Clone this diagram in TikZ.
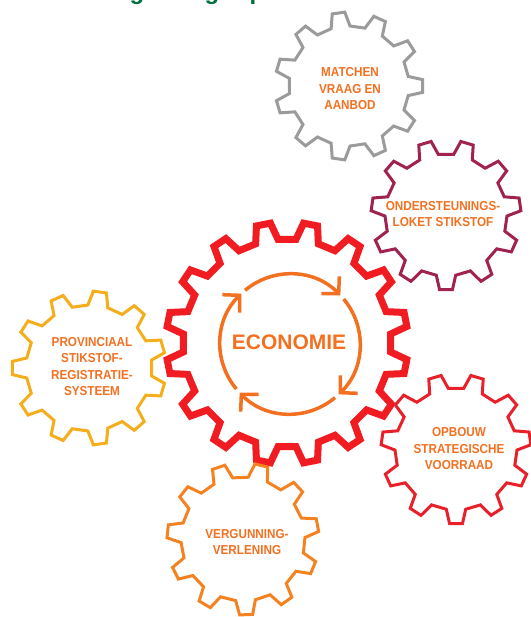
\documentclass[tikz,border=0pt]{standalone}
\usepackage{fontspec}
\setmainfont{Liberation Sans}
\newfontfamily\lblfont[FakeStretch=0.9]{Liberation Sans}
\usetikzlibrary{arrows.meta}
\definecolor{cgray}{HTML}{9B9B9B}
\definecolor{cpurple}{HTML}{A0224F}
\definecolor{cred}{HTML}{F01C22}
\definecolor{cred2}{HTML}{E8202A}
\definecolor{cyellow}{HTML}{F5AE1B}
\definecolor{corange}{HTML}{F58220}
\definecolor{ctext}{HTML}{F37021}
\definecolor{cgreen}{HTML}{00703C}
\newcommand{\mygear}[7]{%
  \pgfmathsetmacro{\gp}{360/#6}%
  \pgfmathsetmacro{\gt}{0.15*\gp}%
  \pgfmathsetmacro{\gb}{0.28*\gp}%
  \pgfmathtruncatemacro{\gm}{#6-1}%
  \draw[#1] ({#2+#5*cos(#7-\gb)},{#3-#5*sin(#7-\gb)})
    \foreach \k in {0,...,\gm}{
      -- ({#2+#5*cos(#7+\k*\gp-\gb)},{#3-#5*sin(#7+\k*\gp-\gb)})
      -- ({#2+#4*cos(#7+\k*\gp-\gt)},{#3-#4*sin(#7+\k*\gp-\gt)})
      -- ({#2+#4*cos(#7+\k*\gp+\gt)},{#3-#4*sin(#7+\k*\gp+\gt)})
      -- ({#2+#5*cos(#7+\k*\gp+\gb)},{#3-#5*sin(#7+\k*\gp+\gb)})
    } -- cycle;
}
\tikzset{
  smallgear/.style={line width=3pt},
  lbl/.style={text=ctext, align=center, font=\lblfont\bfseries\fontsize{13}{16.5}\selectfont, inner sep=0pt},
  cyclearrow/.style={draw=ctext, line width=3.5pt, -{Straight Barb[length=12pt,width=25pt]}},
  greentitle/.style={text=cgreen, anchor=base, inner sep=0pt, font=\bfseries\fontsize{24}{24}\selectfont}
}
\begin{document}
\begin{tikzpicture}[x=1pt,y=-1pt]
\useasboundingbox (0,0) rectangle (530,617);
% partially visible title
\node[greentitle] (t1) at (137,-0.5) {g};
\node[greentitle] (t2) at (212,-0.5) {g};
\node[greentitle] (t3) at (257,-0.5) {p};
% gears
\mygear{cgray,smallgear}{349}{86}{74}{60}{11}{0}
\mygear{cpurple,smallgear}{446}{215}{75}{61}{11}{73.64}
\mygear{cred,line width=7pt}{287}{343}{121}{104}{16}{11.25}
\mygear{cyellow,smallgear}{89}{368}{77}{63}{11}{180}
\mygear{cred2,smallgear}{456}{449}{75}{61}{11}{73.64}
\mygear{corange,smallgear}{243}{539}{76}{62}{11}{76}
% cycle arrows
\foreach \s in {0,1,2,3}{
  \draw[cyclearrow] ({290+70*cos(130-90*\s)},{344-70*sin(130-90*\s)})
     arc[start angle={-130+90*\s}, end angle={-44+90*\s}, radius=70];
}
% labels
\node[text=ctext, inner sep=0pt, font=\bfseries\fontsize{21}{21}\selectfont] (eco) at (289,342) {ECONOMIE};
\node[lbl] (matchen) at (350,89) {MATCHEN\\VRAAG EN\\AANBOD};
\node[lbl] (loket) at (443,214) {ONDERSTEUNINGS-\\LOKET STIKSTOF};
\node[lbl] (prov) at (92,366.5) {PROVINCIAAL\\STIKSTOF-\\REGISTRATIE-\\SYSTEEM};
\node[lbl] (opbouw) at (459,449) {OPBOUW\\STRATEGISCHE\\VOORRAAD};
\node[lbl] (verg) at (247,542) {VERGUNNING-\\VERLENING};
\end{tikzpicture}
\end{document}
